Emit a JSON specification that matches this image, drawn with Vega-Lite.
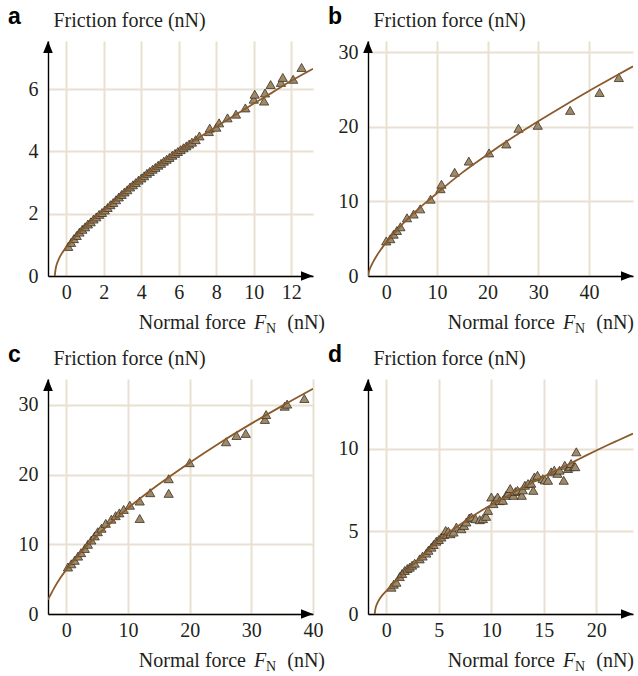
{
"$schema": "https://vega.github.io/schema/vega-lite/v6.json",
"padding": {"left": 8, "top": 6, "right": 0, "bottom": 0},
"background": "#ffffff",
"config": {
  "view": {"stroke": null},
  "font": "serif",
  "axis": {"grid": true, "gridColor": "#e8e0d1", "gridWidth": 2, "domainColor": "#000000", "domainWidth": 1.4, "ticks": false, "labelFont": "serif", "labelFontSize": 20, "labelColor": "#231f20", "labelFlush": false, "labelOverlap": false, "labelBound": false, "titleFont": "serif", "titleFontSize": 20, "titleFontWeight": "normal", "titleColor": "#231f20"},
  "axisX": {"labelPadding": 6},
  "axisY": {"labelPadding": 10, "titleAngle": 0, "titleAlign": "left", "titleBaseline": "alphabetic", "titleX": 5, "titleY": -15},
  "text": {"font": "serif", "fontSize": 20, "color": "#231f20", "baseline": "alphabetic"},
  "title": {"font": "Liberation Sans", "fontSize": 23, "fontWeight": "bold", "color": "#000000", "anchor": "start", "frame": "group", "dx": -40, "dy": 23, "offset": 0}
},
"datasets": {
  "a_fit": [{"x":-0.62,"y":0},{"x":-0.58,"y":0.2},{"x":-0.5,"y":0.4},{"x":-0.4,"y":0.55},{"x":-0.25,"y":0.72},{"x":0,"y":0.92},{"x":0.25,"y":1.1},{"x":0.5,"y":1.27},{"x":1,"y":1.58},{"x":1.5,"y":1.86},{"x":2,"y":2.1},{"x":3,"y":2.64},{"x":4,"y":3.15},{"x":5,"y":3.6},{"x":6,"y":4.02},{"x":7,"y":4.42},{"x":8,"y":4.8},{"x":9,"y":5.17},{"x":10,"y":5.54},{"x":11,"y":5.9},{"x":12,"y":6.27},{"x":13.16,"y":6.66}],
  "a_pts": [{"x":0.1,"y":0.95},{"x":0.25,"y":1.08},{"x":0.4,"y":1.2},{"x":0.55,"y":1.3},{"x":0.7,"y":1.41},{"x":0.85,"y":1.5},{"x":1.0,"y":1.58},{"x":1.15,"y":1.67},{"x":1.3,"y":1.74},{"x":1.45,"y":1.83},{"x":1.6,"y":1.9},{"x":1.75,"y":1.98},{"x":1.9,"y":2.04},{"x":2.05,"y":2.12},{"x":2.2,"y":2.2},{"x":2.35,"y":2.29},{"x":2.5,"y":2.36},{"x":2.65,"y":2.45},{"x":2.8,"y":2.54},{"x":2.95,"y":2.62},{"x":3.1,"y":2.7},{"x":3.25,"y":2.77},{"x":3.4,"y":2.86},{"x":3.55,"y":2.93},{"x":3.7,"y":3.0},{"x":3.85,"y":3.08},{"x":4.0,"y":3.15},{"x":4.15,"y":3.22},{"x":4.3,"y":3.3},{"x":4.45,"y":3.36},{"x":4.6,"y":3.43},{"x":4.75,"y":3.49},{"x":4.9,"y":3.56},{"x":5.05,"y":3.62},{"x":5.2,"y":3.69},{"x":5.35,"y":3.75},{"x":5.5,"y":3.81},{"x":5.65,"y":3.88},{"x":5.8,"y":3.94},{"x":5.95,"y":4.0},{"x":6.1,"y":4.06},{"x":6.25,"y":4.12},{"x":6.4,"y":4.18},{"x":6.55,"y":4.24},{"x":6.7,"y":4.3},{"x":6.9,"y":4.38},{"x":7.1,"y":4.5},{"x":7.6,"y":4.64},{"x":7.65,"y":4.75},{"x":8.0,"y":4.78},{"x":8.15,"y":4.92},{"x":8.6,"y":5.08},{"x":9.05,"y":5.2},{"x":9.55,"y":5.4},{"x":10.0,"y":5.68},{"x":10.05,"y":5.84},{"x":10.55,"y":5.62},{"x":10.6,"y":5.88},{"x":10.9,"y":6.15},{"x":11.45,"y":6.22},{"x":11.55,"y":6.38},{"x":12.1,"y":6.32},{"x":12.55,"y":6.7}],
  "b_fit": [{"x":-3.6,"y":0},{"x":-3.5,"y":0.39},{"x":-3.4,"y":0.62},{"x":-3.2,"y":1.0},{"x":-3,"y":1.32},{"x":-2.5,"y":2.0},{"x":-2,"y":2.59},{"x":-1,"y":3.6},{"x":0,"y":4.5},{"x":2,"y":6.09},{"x":5,"y":8.17},{"x":10,"y":11.1},{"x":15,"y":13.86},{"x":20,"y":16.3},{"x":25,"y":18.6},{"x":30,"y":20.75},{"x":35,"y":22.8},{"x":40,"y":24.8},{"x":45,"y":26.7},{"x":48.7,"y":28.1}],
  "b_pts": [{"x":0,"y":4.7},{"x":0.8,"y":5.0},{"x":1.45,"y":5.6},{"x":2.1,"y":6.1},{"x":2.8,"y":6.6},{"x":4.1,"y":7.8},{"x":5.4,"y":8.3},{"x":6.7,"y":9.0},{"x":8.75,"y":10.3},{"x":10.7,"y":11.7},{"x":10.9,"y":12.3},{"x":13.5,"y":13.9},{"x":16.3,"y":15.4},{"x":20.3,"y":16.5},{"x":23.7,"y":17.7},{"x":26.1,"y":19.8},{"x":29.9,"y":20.2},{"x":36.3,"y":22.2},{"x":42.1,"y":24.6},{"x":45.9,"y":26.6}],
  "c_fit": [{"x":-2.97,"y":2.05},{"x":-2.8,"y":2.35},{"x":-2.5,"y":2.85},{"x":-2,"y":3.68},{"x":-1,"y":5.12},{"x":0,"y":6.36},{"x":2,"y":8.51},{"x":5,"y":11.26},{"x":7.5,"y":13.3},{"x":10,"y":15.18},{"x":15,"y":18.6},{"x":20,"y":21.7},{"x":25,"y":24.6},{"x":30,"y":27.3},{"x":35,"y":29.85},{"x":40,"y":32.3}],
  "c_pts": [{"x":0.27,"y":6.74},{"x":0.81,"y":7.2},{"x":1.35,"y":7.7},{"x":1.9,"y":8.3},{"x":2.4,"y":8.8},{"x":3.0,"y":9.4},{"x":3.5,"y":10.0},{"x":4.05,"y":10.6},{"x":4.6,"y":11.2},{"x":5.1,"y":11.8},{"x":5.7,"y":12.3},{"x":6.4,"y":13.0},{"x":7.3,"y":13.6},{"x":8.0,"y":14.1},{"x":8.6,"y":14.5},{"x":9.3,"y":15.0},{"x":10.3,"y":15.6},{"x":11.9,"y":16.2},{"x":11.9,"y":13.7},{"x":13.6,"y":17.4},{"x":16.6,"y":19.4},{"x":16.6,"y":17.3},{"x":20.0,"y":21.7},{"x":25.9,"y":24.7},{"x":27.6,"y":25.6},{"x":29.1,"y":25.9},{"x":32.2,"y":27.9},{"x":32.4,"y":28.6},{"x":35.4,"y":29.8},{"x":35.8,"y":30.1},{"x":38.6,"y":30.9}],
  "d_fit": [{"x":-1.11,"y":0},{"x":-1.05,"y":0.3},{"x":-0.9,"y":0.6},{"x":-0.6,"y":0.95},{"x":-0.3,"y":1.2},{"x":0,"y":1.4},{"x":0.5,"y":1.75},{"x":1,"y":2.05},{"x":2,"y":2.65},{"x":3,"y":3.25},{"x":4,"y":3.85},{"x":5,"y":4.45},{"x":6,"y":4.95},{"x":7,"y":5.4},{"x":8,"y":5.82},{"x":9,"y":6.22},{"x":10,"y":6.6},{"x":11,"y":6.95},{"x":12,"y":7.3},{"x":13,"y":7.65},{"x":14,"y":7.98},{"x":15,"y":8.3},{"x":16,"y":8.62},{"x":17,"y":8.93},{"x":18,"y":9.25},{"x":19,"y":9.57},{"x":20,"y":9.88},{"x":21,"y":10.18},{"x":22,"y":10.47},{"x":23.5,"y":10.9}],
  "d_pts": [{"x":0.48,"y":1.62},{"x":0.7,"y":1.8},{"x":0.95,"y":1.92},{"x":1.27,"y":2.26},{"x":1.5,"y":2.45},{"x":1.75,"y":2.63},{"x":2.0,"y":2.75},{"x":2.22,"y":2.83},{"x":2.45,"y":2.95},{"x":2.7,"y":3.07},{"x":3.17,"y":3.33},{"x":3.45,"y":3.5},{"x":3.8,"y":3.68},{"x":4.0,"y":3.85},{"x":4.29,"y":4.04},{"x":4.5,"y":4.2},{"x":4.76,"y":4.4},{"x":5.0,"y":4.5},{"x":5.24,"y":4.65},{"x":5.5,"y":4.8},{"x":5.65,"y":5.05},{"x":5.9,"y":5.0},{"x":6.1,"y":4.85},{"x":6.4,"y":4.95},{"x":6.67,"y":5.25},{"x":7.14,"y":5.15},{"x":7.4,"y":5.35},{"x":7.62,"y":5.56},{"x":7.9,"y":5.8},{"x":8.1,"y":5.86},{"x":8.5,"y":5.76},{"x":8.9,"y":5.7},{"x":9.2,"y":5.76},{"x":9.5,"y":5.9},{"x":9.68,"y":6.26},{"x":10.0,"y":7.07},{"x":10.2,"y":6.67},{"x":10.4,"y":6.9},{"x":10.6,"y":7.07},{"x":10.8,"y":6.85},{"x":11.1,"y":6.87},{"x":11.4,"y":7.17},{"x":11.6,"y":7.3},{"x":11.8,"y":7.58},{"x":12.1,"y":7.17},{"x":12.3,"y":7.4},{"x":12.5,"y":7.47},{"x":12.9,"y":7.17},{"x":13.0,"y":7.5},{"x":13.2,"y":7.78},{"x":13.5,"y":7.88},{"x":13.8,"y":7.9},{"x":14.0,"y":7.47},{"x":14.1,"y":8.28},{"x":14.4,"y":8.38},{"x":14.9,"y":8.18},{"x":15.1,"y":8.1},{"x":15.4,"y":8.08},{"x":15.7,"y":8.59},{"x":16.0,"y":8.69},{"x":16.3,"y":8.5},{"x":16.5,"y":8.69},{"x":16.9,"y":8.08},{"x":17.0,"y":8.99},{"x":17.3,"y":8.79},{"x":17.5,"y":8.9},{"x":17.6,"y":9.09},{"x":17.9,"y":8.93},{"x":18.0,"y":8.9},{"x":18.1,"y":9.8}]
},
"concat": [
 {"width": 265, "height": 235, "title": {"text": "a"},
  "layer": [
   {"data": {"name": "a_pts"}, "mark": {"type": "point", "shape": "triangle-up", "filled": true, "fill": "#9e8a68", "stroke": "#3a3125", "strokeWidth": 0.8, "size": 85, "opacity": 1},
    "encoding": {"x": {"field": "x", "type": "quantitative", "scale": {"domain": [-0.98, 13.16], "nice": false, "zero": false}, "axis": {"values": [0,2,4,6,8,10,12], "title": null}},
                 "y": {"field": "y", "type": "quantitative", "scale": {"domain": [0, 7.55], "nice": false, "zero": false}, "axis": {"values": [0,2,4,6], "title": "Friction force (nN)"}}}},
   {"data": {"name": "a_fit"}, "mark": {"type": "line", "color": "#8b5a2b", "strokeWidth": 1.8, "clip": true, "interpolate": "monotone"},
    "encoding": {"x": {"field": "x", "type": "quantitative"}, "y": {"field": "y", "type": "quantitative"}}},
   {"data": {"values": [{}]}, "mark": {"type": "point", "shape": "M0,0L0.4,1L-0.4,1Z", "filled": true, "color": "#000000", "size": 576, "opacity": 1}, "encoding": {"x": {"datum": -0.98}, "y": {"datum": 7.55}}},
   {"data": {"values": [{}]}, "mark": {"type": "point", "shape": "M0,0L-1,-0.4L-1,0.4Z", "filled": true, "color": "#000000", "size": 576, "opacity": 1}, "encoding": {"x": {"datum": 13.16}, "y": {"datum": 0}}},
   {"data": {"values": [{}]}, "mark": {"type": "text", "text": "(nN)", "align": "right", "dx": 12, "dy": 53}, "encoding": {"x": {"datum": 13.16}, "y": {"datum": 0}}},
   {"data": {"values": [{}]}, "mark": {"type": "text", "text": "N", "align": "left", "dx": -47, "dy": 57, "fontSize": 14}, "encoding": {"x": {"datum": 13.16}, "y": {"datum": 0}}},
   {"data": {"values": [{}]}, "mark": {"type": "text", "text": "F", "align": "left", "dx": -59, "dy": 53, "fontStyle": "italic"}, "encoding": {"x": {"datum": 13.16}, "y": {"datum": 0}}},
   {"data": {"values": [{}]}, "mark": {"type": "text", "text": "Normal force", "align": "right", "dx": -67, "dy": 53}, "encoding": {"x": {"datum": 13.16}, "y": {"datum": 0}}}
  ]},
 {"width": 265, "height": 235, "title": {"text": "b"},
  "layer": [
   {"data": {"name": "b_pts"}, "mark": {"type": "point", "shape": "triangle-up", "filled": true, "fill": "#9e8a68", "stroke": "#3a3125", "strokeWidth": 0.8, "size": 85, "opacity": 1},
    "encoding": {"x": {"field": "x", "type": "quantitative", "scale": {"domain": [-3.6, 48.7], "nice": false, "zero": false}, "axis": {"values": [0,10,20,30,40], "title": null}},
                 "y": {"field": "y", "type": "quantitative", "scale": {"domain": [0, 31.5], "nice": false, "zero": false}, "axis": {"values": [0,10,20,30], "title": "Friction force (nN)"}}}},
   {"data": {"name": "b_fit"}, "mark": {"type": "line", "color": "#8b5a2b", "strokeWidth": 1.8, "clip": true, "interpolate": "monotone"},
    "encoding": {"x": {"field": "x", "type": "quantitative"}, "y": {"field": "y", "type": "quantitative"}}},
   {"data": {"values": [{}]}, "mark": {"type": "point", "shape": "M0,0L0.4,1L-0.4,1Z", "filled": true, "color": "#000000", "size": 576, "opacity": 1}, "encoding": {"x": {"datum": -3.6}, "y": {"datum": 31.5}}},
   {"data": {"values": [{}]}, "mark": {"type": "point", "shape": "M0,0L-1,-0.4L-1,0.4Z", "filled": true, "color": "#000000", "size": 576, "opacity": 1}, "encoding": {"x": {"datum": 48.7}, "y": {"datum": 0}}},
   {"data": {"values": [{}]}, "mark": {"type": "text", "text": "(nN)", "align": "right", "dx": 1, "dy": 53}, "encoding": {"x": {"datum": 48.7}, "y": {"datum": 0}}},
   {"data": {"values": [{}]}, "mark": {"type": "text", "text": "N", "align": "left", "dx": -58, "dy": 57, "fontSize": 14}, "encoding": {"x": {"datum": 48.7}, "y": {"datum": 0}}},
   {"data": {"values": [{}]}, "mark": {"type": "text", "text": "F", "align": "left", "dx": -70, "dy": 53, "fontStyle": "italic"}, "encoding": {"x": {"datum": 48.7}, "y": {"datum": 0}}},
   {"data": {"values": [{}]}, "mark": {"type": "text", "text": "Normal force", "align": "right", "dx": -78, "dy": 53}, "encoding": {"x": {"datum": 48.7}, "y": {"datum": 0}}}
  ]},
 {"width": 265, "height": 235, "title": {"text": "c"},
  "layer": [
   {"data": {"name": "c_pts"}, "mark": {"type": "point", "shape": "triangle-up", "filled": true, "fill": "#9e8a68", "stroke": "#3a3125", "strokeWidth": 0.8, "size": 85, "opacity": 1},
    "encoding": {"x": {"field": "x", "type": "quantitative", "scale": {"domain": [-2.97, 40], "nice": false, "zero": false}, "axis": {"values": [0,10,20,30,40], "title": null}},
                 "y": {"field": "y", "type": "quantitative", "scale": {"domain": [0, 33.7], "nice": false, "zero": false}, "axis": {"values": [0,10,20,30], "title": "Friction force (nN)"}}}},
   {"data": {"name": "c_fit"}, "mark": {"type": "line", "color": "#8b5a2b", "strokeWidth": 1.8, "clip": true, "interpolate": "monotone"},
    "encoding": {"x": {"field": "x", "type": "quantitative"}, "y": {"field": "y", "type": "quantitative"}}},
   {"data": {"values": [{}]}, "mark": {"type": "point", "shape": "M0,0L0.4,1L-0.4,1Z", "filled": true, "color": "#000000", "size": 576, "opacity": 1}, "encoding": {"x": {"datum": -2.97}, "y": {"datum": 33.7}}},
   {"data": {"values": [{}]}, "mark": {"type": "point", "shape": "M0,0L-1,-0.4L-1,0.4Z", "filled": true, "color": "#000000", "size": 576, "opacity": 1}, "encoding": {"x": {"datum": 40}, "y": {"datum": 0}}},
   {"data": {"values": [{}]}, "mark": {"type": "text", "text": "(nN)", "align": "right", "dx": 12, "dy": 53}, "encoding": {"x": {"datum": 40}, "y": {"datum": 0}}},
   {"data": {"values": [{}]}, "mark": {"type": "text", "text": "N", "align": "left", "dx": -47, "dy": 57, "fontSize": 14}, "encoding": {"x": {"datum": 40}, "y": {"datum": 0}}},
   {"data": {"values": [{}]}, "mark": {"type": "text", "text": "F", "align": "left", "dx": -59, "dy": 53, "fontStyle": "italic"}, "encoding": {"x": {"datum": 40}, "y": {"datum": 0}}},
   {"data": {"values": [{}]}, "mark": {"type": "text", "text": "Normal force", "align": "right", "dx": -67, "dy": 53}, "encoding": {"x": {"datum": 40}, "y": {"datum": 0}}}
  ]},
 {"width": 265, "height": 235, "title": {"text": "d"},
  "layer": [
   {"data": {"name": "d_pts"}, "mark": {"type": "point", "shape": "triangle-up", "filled": true, "fill": "#9e8a68", "stroke": "#3a3125", "strokeWidth": 0.8, "size": 85, "opacity": 1},
    "encoding": {"x": {"field": "x", "type": "quantitative", "scale": {"domain": [-1.75, 23.5], "nice": false, "zero": false}, "axis": {"values": [0,5,10,15,20], "title": null}},
                 "y": {"field": "y", "type": "quantitative", "scale": {"domain": [0, 14.2], "nice": false, "zero": false}, "axis": {"values": [0,5,10], "title": "Friction force (nN)"}}}},
   {"data": {"name": "d_fit"}, "mark": {"type": "line", "color": "#8b5a2b", "strokeWidth": 1.8, "clip": true, "interpolate": "monotone"},
    "encoding": {"x": {"field": "x", "type": "quantitative"}, "y": {"field": "y", "type": "quantitative"}}},
   {"data": {"values": [{}]}, "mark": {"type": "point", "shape": "M0,0L0.4,1L-0.4,1Z", "filled": true, "color": "#000000", "size": 576, "opacity": 1}, "encoding": {"x": {"datum": -1.75}, "y": {"datum": 14.2}}},
   {"data": {"values": [{}]}, "mark": {"type": "point", "shape": "M0,0L-1,-0.4L-1,0.4Z", "filled": true, "color": "#000000", "size": 576, "opacity": 1}, "encoding": {"x": {"datum": 23.5}, "y": {"datum": 0}}},
   {"data": {"values": [{}]}, "mark": {"type": "text", "text": "(nN)", "align": "right", "dx": 1, "dy": 53}, "encoding": {"x": {"datum": 23.5}, "y": {"datum": 0}}},
   {"data": {"values": [{}]}, "mark": {"type": "text", "text": "N", "align": "left", "dx": -58, "dy": 57, "fontSize": 14}, "encoding": {"x": {"datum": 23.5}, "y": {"datum": 0}}},
   {"data": {"values": [{}]}, "mark": {"type": "text", "text": "F", "align": "left", "dx": -70, "dy": 53, "fontStyle": "italic"}, "encoding": {"x": {"datum": 23.5}, "y": {"datum": 0}}},
   {"data": {"values": [{}]}, "mark": {"type": "text", "text": "Normal force", "align": "right", "dx": -78, "dy": 53}, "encoding": {"x": {"datum": 23.5}, "y": {"datum": 0}}}
  ]}
],
"columns": 2,
"spacing": {"row": 103, "column": 55},
"bounds": "flush"
}
